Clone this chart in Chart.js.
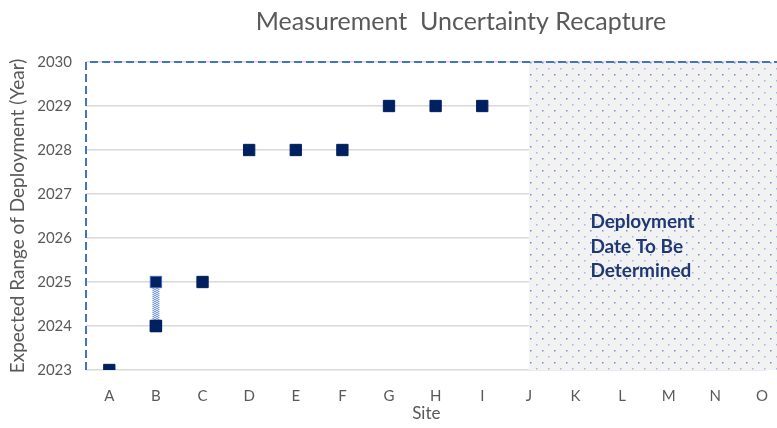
<!DOCTYPE html>
<html>
<head>
<meta charset="utf-8">
<script src="https://cdn.jsdelivr.net/npm/chart.js@4.4.1/dist/chart.umd.min.js"></script>
<style>
  html, body { margin: 0; padding: 0; background: #fff; overflow: hidden; }
  #wrap { width: 777px; height: 428px; }
</style>
</head>
<body>
<div id="wrap"><canvas id="myChart" width="777" height="428"></canvas></div>
<script>
// data
var sites = ['A', 'B', 'C', 'D', 'E', 'F', 'G', 'H', 'I', 'J', 'K', 'L', 'M', 'N', 'O'];
var plannedSites = ['A', 'B', 'C', 'D', 'E', 'F', 'G', 'H', 'I'];
var plannedYears = [2023, 2024, 2025, 2028, 2028, 2028, 2029, 2029, 2029];
var rangeSite = 'B';
var rangeYears = [2024, 2025];
var tbdFrom = 'J';
var tbdText = ['Deployment', 'Date To Be', 'Determined'];
var yearMin = 2023, yearMax = 2030;

var navy = '#002060';
var grey = '#595959';
var font = "Lato, 'Open Sans', sans-serif";

function idx(s) { return sites.indexOf(s); }

var plannedPoints = plannedSites.map(function (s, i) { return { x: idx(s), y: plannedYears[i] }; });
var rangePoints = rangeYears.map(function (y) { return { x: idx(rangeSite), y: y }; });

// dotted fill for the "to be determined" block
function dotPattern() {
  var c = document.createElement('canvas');
  c.width = 12; c.height = 12;
  var g = c.getContext('2d');
  g.fillStyle = '#f2f2f2';
  g.fillRect(0, 0, 12, 12);
  g.fillStyle = 'rgba(68,114,196,0.75)';
  g.fillRect(2, 2, 1.5, 1.5);
  g.fillStyle = 'rgba(68,114,196,0.45)';
  g.fillRect(8, 8, 1.5, 1.5);
  return g.createPattern(c, 'repeat');
}

function hatchPattern() {
  var c = document.createElement('canvas');
  c.width = 4; c.height = 2;
  var g = c.getContext('2d');
  g.fillStyle = '#dbe5f6';
  g.fillRect(0, 0, 4, 2);
  g.fillStyle = '#7f9fd8';
  g.fillRect(0, 0, 2, 1);
  g.fillRect(2, 1, 2, 1);
  return g.createPattern(c, 'repeat');
}

// the plot area runs past the right edge of the picture
var backdrop = {
  id: 'backdrop',
  beforeDatasetsDraw: function (chart) {
    var ctx = chart.ctx, a = chart.chartArea;
    var xs = chart.scales.x;
    var x0 = xs.getPixelForValue(idx(tbdFrom));
    ctx.save();
    ctx.fillStyle = dotPattern();
    ctx.fillRect(x0, a.top, chart.width - x0, a.bottom - a.top);
    // dashed plot-area border
    ctx.strokeStyle = '#4472c4';
    ctx.lineWidth = 2;
    ctx.setLineDash([8, 4]);
    ctx.beginPath();
    ctx.moveTo(a.left, a.bottom);
    ctx.lineTo(a.left, a.top);
    ctx.lineTo(chart.width, a.top);
    ctx.stroke();
    ctx.restore();
  },
  afterDatasetsDraw: function (chart) {
    var ctx = chart.ctx;
    var xs = chart.scales.x, ys = chart.scales.y;
    var tx = xs.getPixelForValue(idx(tbdFrom) + 1.32);
    var ty = ys.getPixelForValue(2025.8);
    ctx.save();
    ctx.fillStyle = '#1f3874';
    ctx.font = "bold 19px " + font;
    ctx.textAlign = 'left';
    ctx.textBaseline = 'middle';
    tbdText.forEach(function (t, i) {
      ctx.fillText(t, tx, ty + (i - 1) * 24.5);
    });
    // title
    ctx.fillStyle = grey;
    ctx.font = "25px " + font;
    ctx.textAlign = 'center';
    ctx.fillText('Measurement  Uncertainty Recapture', 461, 22);
    ctx.restore();
  }
};

var ctx = document.getElementById('myChart').getContext('2d');
var myChart = new Chart(ctx, {
  type: 'scatter',
  data: {
    datasets: [{
      type: 'line',
      data: rangePoints,
      borderColor: hatchPattern(),
      borderWidth: 7,
      pointRadius: 0,
      order: 2
    }, {
      data: rangePoints,
      pointStyle: 'rect',
      pointRadius: 8,
      pointBackgroundColor: navy,
      pointBorderColor: ['#002060', '#3f6cbf'],
      pointBorderWidth: 1,
      order: 1
    }, {
      data: plannedPoints,
      pointStyle: 'rect',
      pointRadius: 8,
      pointBackgroundColor: navy,
      pointBorderColor: navy,
      pointBorderWidth: 1,
      order: 0
    }]
  },
  options: {
    responsive: false,
    animation: false,
    layout: { padding: { top: 62, right: 0, bottom: 0, left: 0 } },
    plugins: {
      legend: { display: false },
      tooltip: { enabled: false }
    },
    scales: {
      x: {
        type: 'linear',
        min: -0.5,
        max: 14.1,
        grid: { display: false },
        border: { display: false },
        ticks: {
          stepSize: 1,
          includeBounds: false,
          color: grey,
          font: { family: font, size: 15 },
          padding: 9,
          callback: function (v) { return Number.isInteger(v) ? sites[v] : ''; }
        },
        title: {
          display: true,
          text: 'Site',
          color: grey,
          font: { family: font, size: 17 },
          padding: { top: 0, bottom: 4 }
        },
        afterFit: function (s) { s.height = 58; }
      },
      y: {
        min: yearMin,
        max: yearMax,
        grid: { color: '#d9d9d9', lineWidth: 1.5, drawTicks: false },
        border: { display: false },
        ticks: {
          stepSize: 1,
          color: grey,
          font: { family: font, size: 15 },
          padding: 14,
          callback: function (v) { return String(v); }
        },
        title: {
          display: true,
          text: 'Expected Range of Deployment (Year)',
          color: grey,
          font: { family: font, size: 19 },
          padding: { top: 6, bottom: 0 }
        },
        afterFit: function (s) { s.width = 86; }
      }
    }
  },
  plugins: [backdrop]
});
</script>
</body>
</html>
